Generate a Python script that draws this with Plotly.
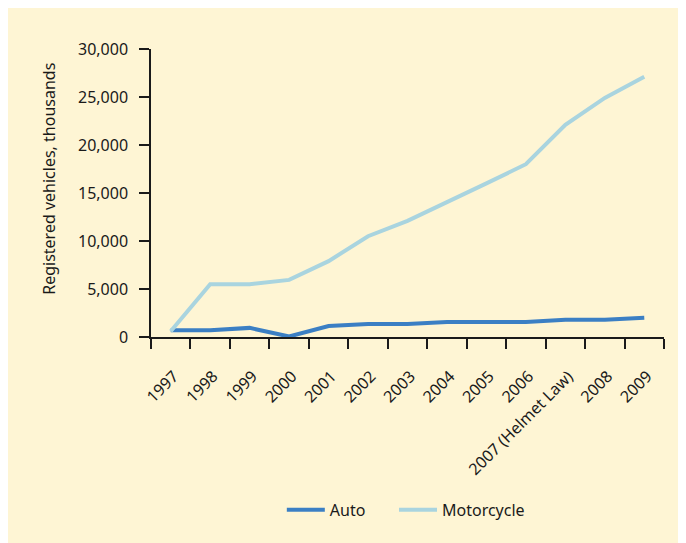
"""Registered vehicles chart: autos vs motorcycles."""

import plotly.graph_objects as go

years = ["1997", "1998", "1999", "2000", "2001", "2002", "2003", "2004",
         "2005", "2006", "2007 (Helmet Law)", "2008", "2009"]
auto = [700, 700, 950, 50, 1150, 1350, 1350, 1550, 1550, 1550, 1800, 1800, 2000]
motorcycle = [600, 5500, 5500, 5950, 7900, 10500, 12100, 14000, 16000, 18000,
              22100, 24900, 27100]

FONT = "Noto Sans"
BG = "#fef5d4"
INK = "#1a1a1a"

fig = go.Figure()

fig.add_trace(go.Scatter(
    x=years, y=auto,
    mode="lines",
    name="Auto",
    line=dict(color="#3b7fc4", width=4),
    legend="legend",
))
fig.add_trace(go.Scatter(
    x=years, y=motorcycle,
    mode="lines",
    name="Motorcycle",
    line=dict(color="#a9d4df", width=4),
    legend="legend2",
))

# Y axis title placed by hand
fig.add_annotation(
    text="Registered vehicles, thousands",
    xref="paper", yref="paper",
    x=-0.199, y=0.549,
    xanchor="center", yanchor="middle",
    textangle=-90,
    showarrow=False,
    font=dict(size=16, color=INK),
)

legend_style = dict(
    orientation="h",
    y=-0.6, yanchor="middle",
    xanchor="left",
    bgcolor="rgba(0,0,0,0)",
    font=dict(size=16),
    itemwidth=38,
)

fig.update_layout(
    width=686,
    height=543,
    paper_bgcolor=BG,
    plot_bgcolor=BG,
    font=dict(family=FONT, size=16, color=INK),
    margin=dict(l=143, r=30, t=41, b=214),
    showlegend=True,
    legend=dict(x=0.255, **legend_style),
    legend2=dict(x=0.4737, **legend_style),
    xaxis=dict(
        type="category",
        range=[-0.5, len(years) - 0.5],
        tickson="boundaries",
        ticks="outside",
        ticklen=10,
        tickcolor=INK,
        tickwidth=1.5,
        tickangle=-45,
        ticklabelstandoff=22,
        ticklabelshift=3,
        showline=True,
        linecolor=INK,
        linewidth=1.5,
        showgrid=False,
        zeroline=False,
        automargin=False,
    ),
    yaxis=dict(
        range=[0, 30000],
        tickvals=[0, 5000, 10000, 15000, 20000, 25000, 30000],
        tickformat=",",
        ticks="outside",
        ticklen=10,
        tickcolor=INK,
        tickwidth=1.5,
        ticklabelstandoff=8,
        showline=True,
        linecolor=INK,
        linewidth=1.5,
        showgrid=False,
        zeroline=False,
        automargin=False,
    ),
)

fig.write_html("out.html")
